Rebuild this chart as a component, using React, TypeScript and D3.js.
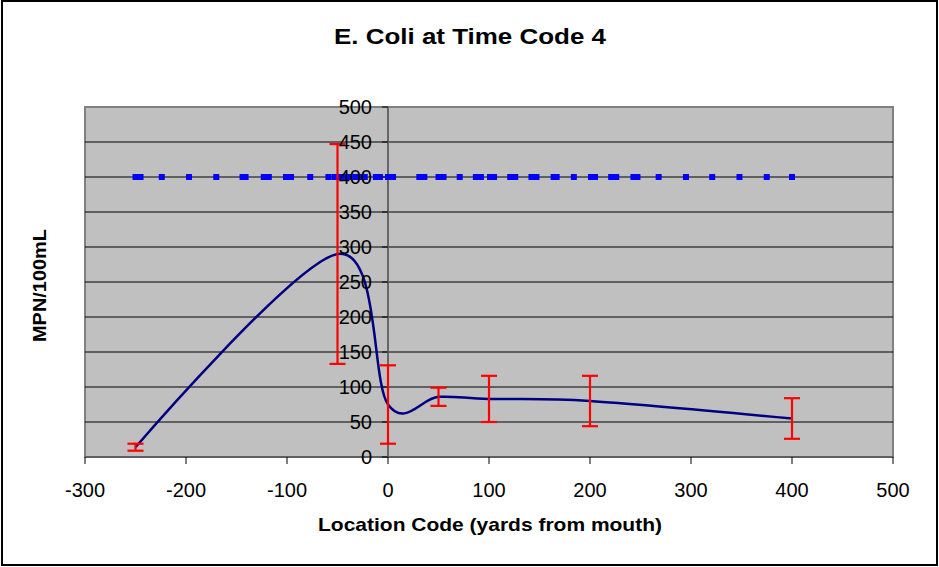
import React from "react";
import * as d3 from "d3";

// ---- data ----
const title = "E. Coli at Time Code 4";
const xTitle = "Location Code (yards from mouth)";
const yTitle = "MPN/100mL";
const locations = [-250, -50, 0, 50, 100, 200, 400];
const means = [14, 290, 75, 86, 83, 80, 55];
const errors = [5, 157, 56, 13, 33, 36, 29];
const standardValue = 400;
const standardX = [
  -250, -245, -224, -197, -170, -144, -141, -123, -118, -101, -96, -77, -59, -53,
  -48, -43, -38, -32, -27, -23, -12, -8, 0, 5, 31, 36, 50, 55, 71, 87, 92, 101,
  105, 121, 126, 142, 147, 164, 167, 184, 201, 205, 221, 226, 243, 247, 268, 295,
  321, 348, 375, 400,
];
const xTicks = [-300, -200, -100, 0, 100, 200, 300, 400, 500];
const yTicks = [0, 50, 100, 150, 200, 250, 300, 350, 400, 450, 500];

const W = 939;
const H = 567;
const plot = { left: 85, right: 893, top: 107, bottom: 457 };
const FONT = "Arial, 'Liberation Sans', sans-serif";

export default function App() {
  const x = d3.scaleLinear().domain([-300, 500]).range([plot.left, plot.right]);
  const y = d3.scaleLinear().domain([0, 500]).range([plot.bottom, plot.top]);

  const pts = locations.map((l, i) => [x(l), y(means[i])] as [number, number]);
  const linePath = d3.line().curve(d3.curveCardinal.tension(0))(pts) || "";

  const capHalf = 8;
  const markerSize = 6;

  return (
    <svg
      width={W}
      height={H}
      style={{ position: "absolute", left: 0, top: 0, background: "#fff" }}
      fontFamily={FONT}
    >
      <rect x={2} y={1} width={W - 4} height={H - 3} fill="#fff" stroke="#000" strokeWidth={2} />
      {/* plot area */}
      <rect
        x={plot.left}
        y={plot.top}
        width={plot.right - plot.left}
        height={plot.bottom - plot.top}
        fill="#C0C0C0"
        stroke="#808080"
        strokeWidth={2}
      />
      {/* gridlines */}
      {yTicks
        .filter((t) => t !== 0 && t !== 500)
        .map((t) => (
          <line key={"g" + t} x1={plot.left} x2={plot.right} y1={y(t)} y2={y(t)} stroke="#000" strokeWidth={1} />
        ))}
      {/* x axis */}
      <line x1={plot.left} x2={plot.right} y1={y(0)} y2={y(0)} stroke="#555" strokeWidth={1.5} />
      {xTicks.map((t) => (
        <g key={"xt" + t}>
          <line x1={x(t)} x2={x(t)} y1={y(0)} y2={y(0) + 7} stroke="#000" strokeWidth={1} />
          <text x={x(t)} y={497} textAnchor="middle" fontSize={20} fill="#000">
            {t}
          </text>
        </g>
      ))}
      {/* y axis at x=0 */}
      <line x1={x(0)} x2={x(0)} y1={plot.top} y2={plot.bottom} stroke="#666" strokeWidth={2} />
      {yTicks.map((t) => (
        <line key={"yt" + t} x1={x(0) - 6} x2={x(0)} y1={y(t)} y2={y(t)} stroke="#000" strokeWidth={1} />
      ))}
      {/* standard markers */}
      {standardX.map((s, i) => (
        <rect
          key={"s" + i}
          x={x(s) - markerSize / 2}
          y={y(standardValue) - markerSize / 2}
          width={markerSize}
          height={markerSize}
          fill="#0000FF"
        />
      ))}
      {/* mean line */}
      <path d={linePath} fill="none" stroke="#000080" strokeWidth={2.5} />
      {/* error bars */}
      {locations.map((l, i) => {
        const cx = x(l);
        const yt = y(means[i] + errors[i]);
        const yb = y(means[i] - errors[i]);
        return (
          <g key={"e" + i} stroke="#FF0000" strokeWidth={2.2}>
            <line x1={cx} x2={cx} y1={yt} y2={yb} />
            <line x1={cx - capHalf} x2={cx + capHalf} y1={yt} y2={yt} />
            <line x1={cx - capHalf} x2={cx + capHalf} y1={yb} y2={yb} />
          </g>
        );
      })}
      {/* y tick labels */}
      {yTicks.map((t) => (
        <text key={"yl" + t} x={372} y={y(t) + 7} textAnchor="end" fontSize={20} fill="#000">
          {t}
        </text>
      ))}
      {/* titles */}
      <text x={470} y={44} textAnchor="middle" fontSize={22} fontWeight="bold" textLength={272} lengthAdjust="spacingAndGlyphs">
        {title}
      </text>
      <text x={490} y={531} textAnchor="middle" fontSize={19} fontWeight="bold" textLength={344} lengthAdjust="spacingAndGlyphs">
        {xTitle}
      </text>
      <text
        transform={`translate(46, 285.5) rotate(-90)`}
        textAnchor="middle"
        fontSize={18}
        fontWeight="bold"
        textLength={113}
        lengthAdjust="spacingAndGlyphs"
      >
        {yTitle}
      </text>
    </svg>
  );
}
